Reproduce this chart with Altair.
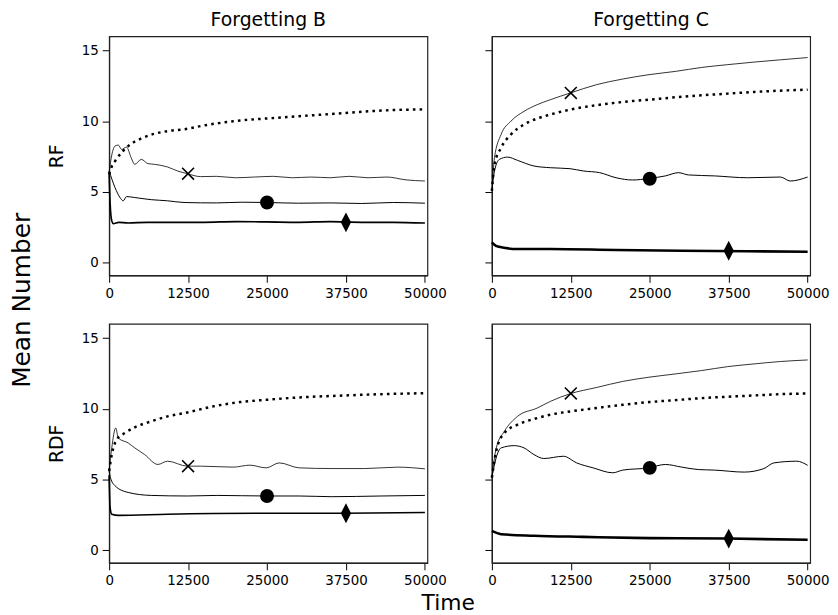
import altair as alt
import pandas as pd

FONT = "DejaVu Sans"
TICKS_X = [0, 12500, 25000, 37500, 50000]
TICKS_Y = [0, 5, 10, 15]
COL_TITLES = ["Forgetting B", "Forgetting C"]
ROW_TITLES = ["RF", "RDF"]
SERIES = ["cross", "dotted", "circle", "diamond"]
MARKER_T = [12500, 25000, 37500]

# ---- Forgetting B, RF (top-left)
B_RF_CROSS_T = [0, 416, 937, 1457, 1977, 2758, 3500, 4058, 5099, 6140, 7180, 9261, 10822, 12383, 14464, 17000, 20000, 23000, 26000, 29000, 32000, 35000, 38000, 41000, 44000, 47000, 50000]
B_RF_CROSS_V = [6.4, 7.6, 8.25, 8.31, 8.0, 8.17, 7.4, 6.95, 7.3, 7.0, 6.95, 6.76, 6.48, 6.29, 6.08, 6.1, 6.0, 6.05, 6.1, 6.0, 6.05, 6.0, 6.1, 6.0, 6.05, 5.85, 5.77]
B_RF_DOT_T = [0, 416, 937, 3018, 5099, 7180, 9261, 12383, 14464, 19667, 24870, 30073, 37357, 43080, 50000]
B_RF_DOT_V = [6.24, 6.8, 7.18, 8.24, 8.78, 9.11, 9.30, 9.46, 9.65, 10.0, 10.19, 10.35, 10.58, 10.75, 10.84]
B_RF_CIRC_T = [0, 937, 1717, 2237, 2758, 4058, 6660, 9261, 11863, 17000, 21000, 25000, 30000, 35000, 40000, 45000, 50000]
B_RF_CIRC_V = [6.48, 5.3, 4.6, 4.37, 4.67, 4.6, 4.45, 4.37, 4.25, 4.22, 4.27, 4.25, 4.2, 4.22, 4.18, 4.25, 4.2]
B_RF_DIA_T = [0, 150, 416, 676, 1500, 3000, 6000, 10000, 15000, 20000, 25000, 30000, 35000, 40000, 45000, 50000]
B_RF_DIA_V = [6.4, 4.2, 2.95, 2.75, 2.85, 2.8, 2.85, 2.85, 2.85, 2.9, 2.88, 2.85, 2.9, 2.85, 2.85, 2.8]
B_RF_MARK_V = [6.29, 4.25, 2.85]

# ---- Forgetting C, RF (top-right)
C_RF_T = [0, 416, 1457, 3018, 5099, 7180, 9261, 12383, 16545, 20708, 24870, 29032, 33195, 37357, 41519, 45682, 50000]
C_RF_CROSS_V = [5.07, 7.42, 9.06, 10.0, 10.7, 11.17, 11.52, 11.99, 12.58, 12.98, 13.29, 13.52, 13.8, 14.0, 14.18, 14.34, 14.5]
C_RF_DOT_V = [5.07, 6.95, 8.12, 9.06, 9.77, 10.19, 10.47, 10.82, 11.13, 11.36, 11.52, 11.69, 11.83, 11.95, 12.07, 12.16, 12.23]
C_RF_CIRC_T = [0, 416, 1197, 2497, 4058, 6660, 9261, 12383, 14464, 17066, 19667, 22269, 24870, 27471, 29553, 31113, 35276, 40478, 45682, 47242, 50000]
C_RF_CIRC_V = [5.07, 6.48, 7.3, 7.46, 7.23, 6.83, 6.71, 6.64, 6.48, 6.36, 6.0, 5.84, 5.95, 6.13, 6.36, 6.2, 6.13, 6.0, 6.05, 5.77, 6.05]
C_RF_DIA_T = [0, 300, 937, 4058, 9261, 19667, 30073, 40478, 50000]
C_RF_DIA_V = [1.43, 1.3, 1.13, 0.96, 0.96, 0.89, 0.84, 0.8, 0.77]
C_RF_MARK_V = [12.0, 5.93, 0.84]

# ---- Forgetting B, RDF (bottom-left)
B_RDF_CROSS_T = [0, 416, 1041, 1457, 3018, 4058, 5619, 7700, 9261, 12383, 14464, 19667, 22269, 24870, 26951, 30073, 35276, 40478, 45682, 50000]
B_RDF_CROSS_V = [5.6, 7.23, 8.64, 7.93, 7.58, 7.23, 6.76, 6.06, 6.29, 5.94, 5.94, 5.87, 6.01, 5.82, 6.17, 5.82, 5.77, 5.77, 5.87, 5.75]
B_RDF_DOT_T = [0, 416, 1197, 2497, 4058, 6660, 9261, 12383, 16545, 20708, 24870, 30073, 37357, 43080, 50000]
B_RDF_DOT_V = [5.6, 6.76, 7.82, 8.29, 8.69, 9.11, 9.46, 9.74, 10.17, 10.47, 10.63, 10.8, 10.94, 11.03, 11.1]
B_RDF_CIRC_T = [0, 208, 937, 3018, 6660, 12383, 17066, 24870, 30073, 35276, 43080, 50000]
B_RDF_CIRC_V = [5.6, 5.13, 4.55, 4.08, 3.87, 3.83, 3.87, 3.83, 3.83, 3.78, 3.83, 3.87]
B_RDF_DIA_T = [0, 150, 416, 1457, 9261, 24870, 37357, 50000]
B_RDF_DIA_V = [5.3, 3.0, 2.54, 2.46, 2.54, 2.61, 2.61, 2.66]
B_RDF_MARK_V = [5.94, 3.83, 2.61]

# ---- Forgetting C, RDF (bottom-right)
C_RDF_T = [0, 676, 1977, 4058, 7180, 9261, 12383, 16545, 20708, 24870, 29032, 33195, 37357, 41519, 45682, 50000]
C_RDF_CROSS_V = [5.13, 7.2, 8.4, 9.46, 10.05, 10.52, 11.06, 11.5, 11.93, 12.23, 12.46, 12.7, 12.98, 13.17, 13.34, 13.45]
C_RDF_DOT_V = [5.13, 6.99, 8.29, 8.87, 9.34, 9.58, 9.81, 10.05, 10.28, 10.47, 10.61, 10.75, 10.85, 10.94, 11.03, 11.08]
C_RDF_CIRC_T = [0, 676, 1457, 3538, 5099, 6660, 8221, 11342, 13424, 16025, 19147, 20708, 24870, 27471, 30073, 32674, 35276, 39958, 43080, 44641, 48283, 50000]
C_RDF_CIRC_V = [5.13, 6.53, 7.23, 7.39, 7.23, 6.76, 6.48, 6.64, 6.17, 5.82, 5.47, 5.66, 5.82, 6.06, 5.87, 5.7, 5.66, 5.52, 5.77, 6.17, 6.29, 6.0]
C_RDF_DIA_T = [0, 1457, 6660, 14464, 24870, 37357, 50000]
C_RDF_DIA_V = [1.36, 1.13, 1.02, 0.94, 0.85, 0.82, 0.73]
C_RDF_MARK_V = [11.08, 5.82, 0.82]

PANELS = [
    [
        {"cross": (B_RF_CROSS_T, B_RF_CROSS_V), "dotted": (B_RF_DOT_T, B_RF_DOT_V),
         "circle": (B_RF_CIRC_T, B_RF_CIRC_V), "diamond": (B_RF_DIA_T, B_RF_DIA_V), "marks": B_RF_MARK_V},
        {"cross": (C_RF_T, C_RF_CROSS_V), "dotted": (C_RF_T, C_RF_DOT_V),
         "circle": (C_RF_CIRC_T, C_RF_CIRC_V), "diamond": (C_RF_DIA_T, C_RF_DIA_V), "marks": C_RF_MARK_V},
    ],
    [
        {"cross": (B_RDF_CROSS_T, B_RDF_CROSS_V), "dotted": (B_RDF_DOT_T, B_RDF_DOT_V),
         "circle": (B_RDF_CIRC_T, B_RDF_CIRC_V), "diamond": (B_RDF_DIA_T, B_RDF_DIA_V), "marks": B_RDF_MARK_V},
        {"cross": (C_RDF_T, C_RDF_CROSS_V), "dotted": (C_RDF_T, C_RDF_DOT_V),
         "circle": (C_RDF_CIRC_T, C_RDF_CIRC_V), "diamond": (C_RDF_DIA_T, C_RDF_DIA_V), "marks": C_RDF_MARK_V},
    ],
]

W, H = 321, 241
XS = alt.Scale(domain=[0, 50400], nice=False, zero=False)
YS = alt.Scale(domain=[-0.9, 16], nice=False, zero=False)
X_PATH = "M-1,-1L1,1M1,-1L-1,1"
DIA_PATH = "M0,-1L0.52,0L0,1L-0.52,0Z"


def make_panel(r, c):
    p = PANELS[r][c]
    xaxis = alt.Axis(values=TICKS_X, format="d", labelFlush=False, title=None)
    if c == 0:
        yaxis = alt.Axis(values=TICKS_Y, title=ROW_TITLES[r], titleX=-53, titleY=H / 2,
                         titleAngle=270, titleAlign="center", titleBaseline="middle",
                         titleFontSize=19, titleFontWeight="normal")
    else:
        yaxis = alt.Axis(values=TICKS_Y, labels=False, title=None)

    widths = {"cross": 0.8, "dotted": 2.5, "circle": 1.0, "diamond": 1.7 if c == 0 else 2.6}
    layers = []
    for i, s in enumerate(SERIES):
        ts, vs = p[s]
        df = pd.DataFrame({"t": ts, "v": vs})
        kw = dict(color="black", strokeWidth=widths[s], interpolate="monotone")
        if s == "dotted":
            kw["strokeDash"] = [2.6, 4.2]
        enc = dict(x=alt.X("t:Q", scale=XS, axis=xaxis), y=alt.Y("v:Q", scale=YS, axis=yaxis)) if i == 0 else \
            dict(x=alt.X("t:Q", scale=XS), y=alt.Y("v:Q", scale=YS))
        layers.append(alt.Chart(df).mark_line(**kw).encode(**enc))

    mk = pd.DataFrame({"t": MARKER_T, "v": p["marks"]})
    menc = dict(x=alt.X("t:Q", scale=XS), y=alt.Y("v:Q", scale=YS))
    layers.append(alt.Chart(mk.iloc[[0]]).mark_point(
        shape=X_PATH, filled=False, size=144, strokeWidth=1.6, color="black", opacity=1).encode(**menc))
    layers.append(alt.Chart(mk.iloc[[1]]).mark_point(
        shape="circle", filled=True, size=196, color="black", opacity=1).encode(**menc))
    layers.append(alt.Chart(mk.iloc[[2]]).mark_point(
        shape=DIA_PATH, filled=True, size=400, color="black", opacity=1).encode(**menc))

    ch = alt.layer(*layers).properties(width=W, height=H)
    if r == 0:
        ch = ch.properties(title=alt.TitleParams(COL_TITLES[c], fontSize=19, fontWeight="normal", offset=6))
    return ch


panels = [make_panel(r, c) for r in range(2) for c in range(2)]
inner = alt.concat(*panels, columns=2, spacing={"row": 49, "column": 65}, bounds="flush").properties(
    title=alt.TitleParams("Time", orient="bottom", fontSize=22, fontWeight="normal", anchor="middle", offset=5, dx=10)
)
chart = alt.vconcat(inner).properties(
    title=alt.TitleParams("Mean Number", orient="left", fontSize=25, fontWeight="normal", anchor="middle",
                          offset=12, dx=12),
    padding={"left": 2, "top": 0, "right": 0, "bottom": 0},
).configure(font=FONT).configure_concat(spacing=0).configure_view(
    stroke="#222222", strokeWidth=1.2
).configure_axis(
    grid=False, domainColor="#222222", domainWidth=1.2, tickColor="black", labelColor="black", titleColor="black",
    labelFontSize=13.5, tickSize=7, labelPadding=4, labelFont=FONT, titleFont=FONT
).configure_title(color="black", font=FONT)

chart.save("out.html", embed_options={"renderer": "svg", "actions": False})
